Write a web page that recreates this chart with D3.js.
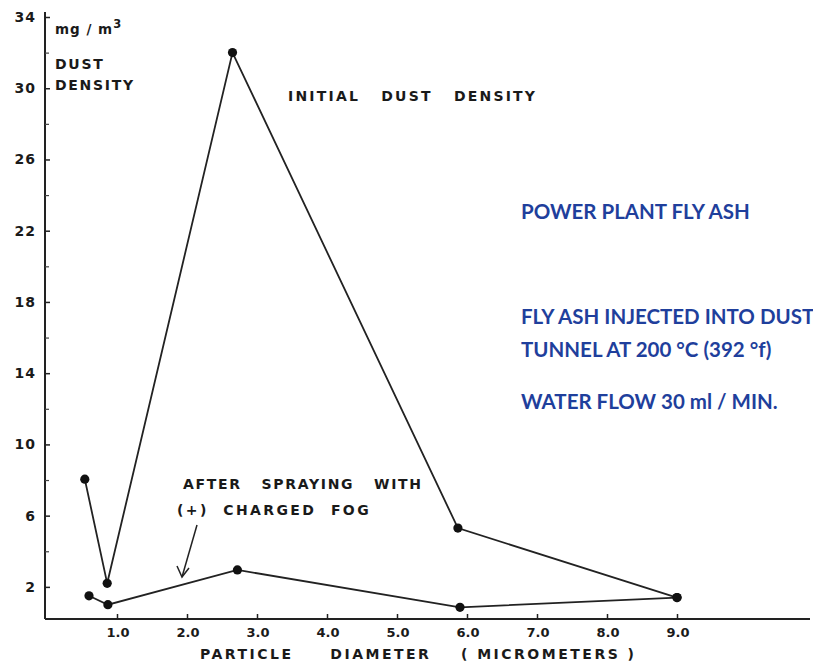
<!DOCTYPE html>
<html><head><meta charset="utf-8">
<script src="https://cdn.jsdelivr.net/npm/d3@7"></script>
<style>
body{margin:0;background:#fff;}
svg{display:block;}
.lt{font-family:'DejaVu Sans';font-weight:bold;fill:#1a1a1a;}
.bl{font-family:Lato,'Open Sans',sans-serif;font-weight:bold;fill:#1f3f9c;font-size:20.5px;}
</style></head><body>
<script>
const initialX = [0.54, 0.86, 2.65, 5.87, 9.0];
const initialY = [8.05, 2.2, 32.0, 5.3, 1.4];
const afterX = [0.60, 0.87, 2.72, 5.9, 9.0];
const afterY = [1.5, 1.0, 2.95, 0.85, 1.4];
const xTicks = [1, 2, 3, 4, 5, 6, 7, 8, 9];
const xTickLabels = ["1.0","2.0","3.0","4.0","5.0","6.0","7.0","8.0","9.0"];
const yTicks = [2, 6, 10, 14, 18, 22, 26, 30, 34];
const yMinorTicks = [4, 8, 12, 16, 20, 24, 28, 32];

const W = 813, H = 662;
const svg = d3.select("body").append("svg").attr("width", W).attr("height", H);
const x = d3.scaleLinear().domain([0, 9]).range([47, 677]);
const y = d3.scaleLinear().domain([0, 34]).range([622.5, 17]);
const axisY = 619, axisX = 45;

svg.append("line").attr("x1", axisX).attr("x2", axisX).attr("y1", 12).attr("y2", axisY)
  .attr("stroke", "#222").attr("stroke-width", 2);
svg.append("line").attr("x1", axisX).attr("x2", 810).attr("y1", axisY).attr("y2", axisY)
  .attr("stroke", "#222").attr("stroke-width", 1.8);

const gy = svg.append("g").attr("transform", `translate(${axisX},0)`)
  .call(d3.axisRight(y).tickValues(yTicks).tickSize(5).tickFormat(""));
gy.select(".domain").remove();
gy.selectAll("line").attr("stroke", "#222").attr("stroke-width", 1.5);
const gy2 = svg.append("g").attr("transform", `translate(${axisX},0)`)
  .call(d3.axisRight(y).tickValues(yMinorTicks).tickSize(4).tickFormat(""));
gy2.select(".domain").remove();
gy2.selectAll("line").attr("stroke", "#444").attr("stroke-width", 1.2);
svg.selectAll(".ylab").data(yTicks).enter().append("text").attr("class", "lt")
  .attr("x", 36).attr("y", d => y(d) + 5).attr("text-anchor", "end")
  .attr("font-size", 14).attr("font-weight", "normal").attr("letter-spacing", 1).text(d => d);

const gx = svg.append("g").attr("transform", `translate(0,${axisY})`)
  .call(d3.axisTop(x).tickValues(xTicks).tickSize(5).tickFormat(""));
gx.select(".domain").remove();
gx.selectAll("line").attr("stroke", "#222").attr("stroke-width", 1.5);
svg.selectAll(".xlab").data(xTicks).enter().append("text").attr("class", "lt")
  .attr("x", d => x(d) + 1).attr("y", 637).attr("text-anchor", "middle")
  .attr("font-size", 13).attr("font-weight", "normal").text((d, i) => xTickLabels[i]);

svg.append("text").attr("class", "lt").attr("x", 55).attr("y", 34).attr("font-size", 13.5)
  .attr("font-weight", "normal").attr("letter-spacing", 1).html('mg / m<tspan dy="-6" font-size="11.5">3</tspan>');
svg.append("text").attr("class", "lt").attr("x", 55).attr("y", 69).attr("font-size", 14)
  .attr("letter-spacing", 1.7).text("DUST");
svg.append("text").attr("class", "lt").attr("x", 55).attr("y", 90).attr("font-size", 14)
  .attr("letter-spacing", 1.7).text("DENSITY");
svg.append("text").attr("class", "lt").attr("x", 288).attr("y", 101).attr("font-size", 14)
  .attr("letter-spacing", 2.2).attr("xml:space", "preserve").text("INITIAL   DUST   DENSITY");
svg.append("text").attr("class", "lt").attr("x", 183).attr("y", 489).attr("font-size", 14)
  .attr("letter-spacing", 1.7).attr("xml:space", "preserve").text("AFTER   SPRAYING   WITH");
svg.append("text").attr("class", "lt").attr("x", 177).attr("y", 515).attr("font-size", 14)
  .attr("letter-spacing", 2.4).attr("xml:space", "preserve").text("(+)  CHARGED  FOG");
svg.append("text").attr("class", "lt").attr("x", 200).attr("y", 659).attr("font-size", 14)
  .attr("letter-spacing", 2.5).attr("xml:space", "preserve").text("PARTICLE     DIAMETER    ( MICROMETERS )");

svg.append("line").attr("x1", 197).attr("y1", 525).attr("x2", 182).attr("y2", 577)
  .attr("stroke", "#222").attr("stroke-width", 1.5);
svg.append("path").attr("d", "M177,566 L182,577 L189,568").attr("fill", "none")
  .attr("stroke", "#222").attr("stroke-width", 1.5);

const line = d3.line().x(d => x(d[0])).y(d => y(d[1]));
const ini = initialX.map((v, i) => [v, initialY[i]]);
const aft = afterX.map((v, i) => [v, afterY[i]]);
[ini, aft].forEach(s => {
  svg.append("path").datum(s).attr("d", line).attr("fill", "none")
    .attr("stroke", "#222").attr("stroke-width", 1.8);
  svg.selectAll(null).data(s).enter().append("circle")
    .attr("cx", d => x(d[0])).attr("cy", d => y(d[1])).attr("r", 4.6).attr("fill", "#111");
});

const blue = [["POWER PLANT FLY ASH", 219], ["FLY ASH INJECTED INTO DUST", 324],
  ["TUNNEL AT 200 °C (392 °f)", 357], ["WATER FLOW 30 ml / MIN.", 409]];
blue.forEach(b => svg.append("text").attr("class", "bl").attr("x", 521).attr("y", b[1]).text(b[0]));
</script>
</body></html>
